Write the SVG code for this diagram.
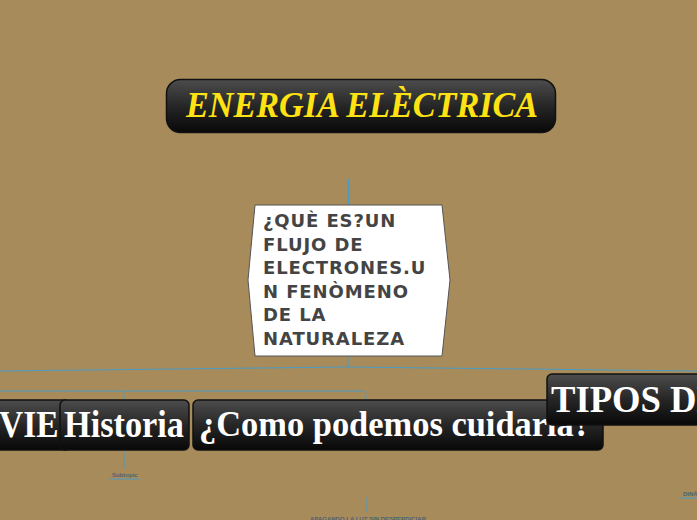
<svg xmlns="http://www.w3.org/2000/svg" width="697" height="520" viewBox="0 0 697 520">
<defs>
<linearGradient id="blk" x1="0" y1="0" x2="0" y2="1">
<stop offset="0" stop-color="#4d4d4d"/>
<stop offset="0.5" stop-color="#262626"/>
<stop offset="1" stop-color="#080808"/>
</linearGradient>
<style>
.conn{fill:none;stroke:#4a9cc6;stroke-width:1}
.box{fill:url(#blk);stroke:#111;stroke-width:1.5}
.big{font-family:"Liberation Serif","DejaVu Serif",serif;font-weight:bold;fill:#fff}
.small{font-family:"Liberation Sans",Arial,sans-serif;font-size:6px;fill:#4e6270;font-weight:bold}
.ctr{font-family:"DejaVu Sans","Liberation Sans",sans-serif;font-weight:bold;font-size:18px;fill:#444;letter-spacing:0.9px}
</style>
</defs>
<rect width="697" height="520" fill="#a78b5b"/>
<g id="connectors">
<line x1="348.5" y1="179" x2="348.5" y2="205" class="conn" style="stroke-width:2"/>
<path class="conn" d="M348,356 V367 L0,371"/>
<path class="conn" d="M348,367 L697,371"/>
<path class="conn" d="M0,391 H120 Q124,391 124,395 V400"/>
<path class="conn" d="M124,391 H362 Q366,391 366,395 V400"/>
<line class="conn" x1="124" y1="451" x2="124" y2="469"/>
<line class="conn" x1="109" y1="479" x2="139" y2="479"/>
<line class="conn" x1="367" y1="497" x2="367" y2="512"/>
<line class="conn" x1="680" y1="498" x2="697" y2="498"/>
</g>
<g id="title">
<rect class="box" x="166.5" y="79.5" width="389" height="53" rx="14"/>
<text x="186" y="117" class="big" style="fill:#ffe212;font-style:italic;font-size:35px" textLength="352" lengthAdjust="spacingAndGlyphs">ENERGIA ELÈCTRICA</text>
</g>
<g id="central">
<polygon points="255,205 442,205 450,280 442,356 255,356 248,280" fill="#fff" stroke="#555" stroke-width="1"/>
<text class="ctr" x="263" y="227">¿QUÈ ES?UN</text>
<text class="ctr" x="263" y="250.5">FLUJO DE</text>
<text class="ctr" x="263" y="274">ELECTRONES.U</text>
<text class="ctr" x="263" y="297.5">N FENÒMENO</text>
<text class="ctr" x="263" y="321">DE LA</text>
<text class="ctr" x="263" y="344.5">NATURALEZA</text>
</g>
<g id="node-vie">
<rect class="box" x="-20" y="400" width="90" height="50" rx="5"/>
<text x="-1" y="437" class="big" style="font-size:37px" textLength="78" lengthAdjust="spacingAndGlyphs">VIES</text>
</g>
<g id="node-historia">
<rect class="box" x="60" y="400" width="129" height="50" rx="5"/>
<text x="64" y="437" class="big" style="font-size:37px" textLength="120" lengthAdjust="spacingAndGlyphs">Historia</text>
</g>
<g id="node-cuidarla">
<rect class="box" x="193" y="400" width="410" height="50" rx="5"/>
<text x="199" y="436" class="big" style="font-size:36px" textLength="392" lengthAdjust="spacingAndGlyphs">¿Como podemos cuidarla?</text>
</g>
<g id="node-tipos">
<rect class="box" x="547" y="374" width="170" height="51" rx="5"/>
<text x="551" y="412" class="big" style="font-size:37px" textLength="170" lengthAdjust="spacingAndGlyphs">TIPOS DE</text>
</g>
<g id="subtopic">
<text class="small" x="112" y="477">Subtopic</text>
</g>
<g id="apagando">
<text class="small" x="310" y="521">APAGANDO LA LUZ SIN DESPERDICIAR</text>
</g>
<g id="dina">
<text class="small" x="683" y="496">DINÁ</text>
</g>
</svg>
